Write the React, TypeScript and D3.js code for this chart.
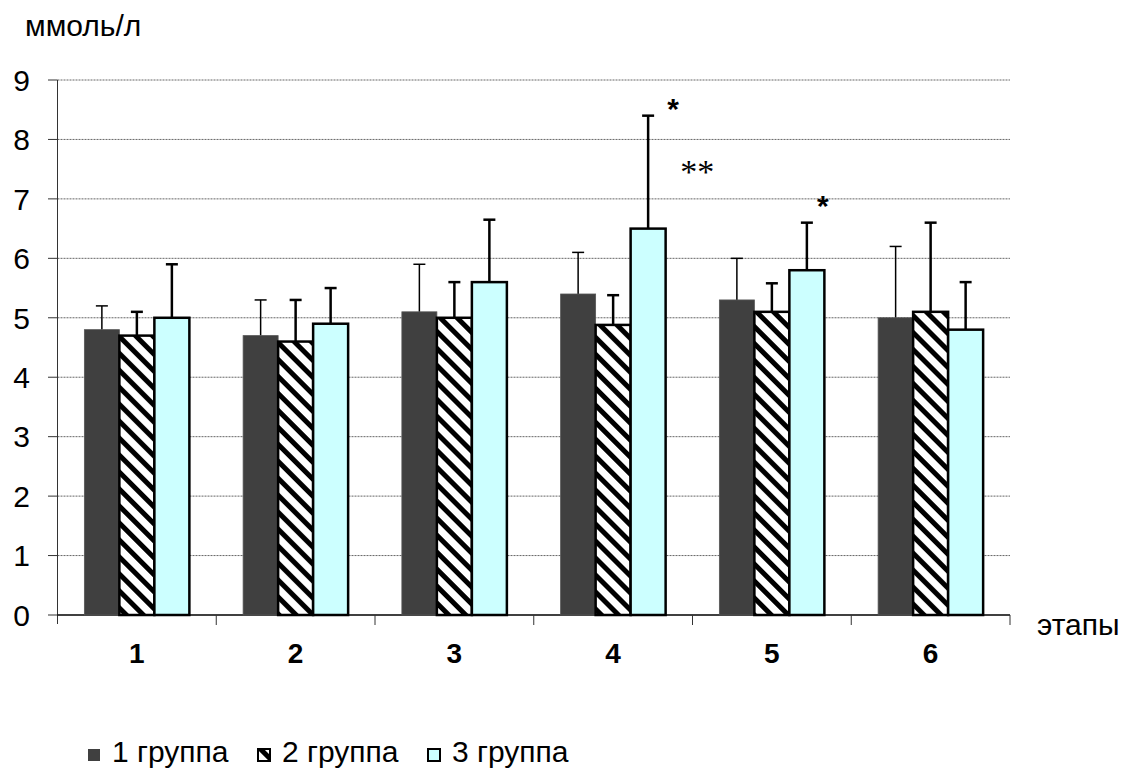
import * as d3 from "d3";

const stages = ["1", "2", "3", "4", "5", "6"];
const groups = ["1 группа", "2 группа", "3 группа"];

// mean values per group, one entry per stage
const group1 = [4.8, 4.7, 5.1, 5.4, 5.3, 5.0];
const group2 = [4.7, 4.6, 5.0, 4.88, 5.1, 5.1];
const group3 = [5.0, 4.9, 5.6, 6.5, 5.8, 4.8];

// upper end of the error bars
const err1 = [5.2, 5.3, 5.9, 6.1, 6.0, 6.2];
const err2 = [5.1, 5.3, 5.6, 5.38, 5.58, 6.6];
const err3 = [5.9, 5.5, 6.65, 8.4, 6.6, 5.6];

const yTicks = [0, 1, 2, 3, 4, 5, 6, 7, 8, 9];

// significance marks: stage, text, value level of the mark centre
const marks = [
  { stage: "4", text: "*", level: 8.58, shift: 25, serif: false },
  { stage: "4", text: "**", level: 7.55, shift: 49, serif: true },
  { stage: "5", text: "*", level: 6.95, shift: 16, serif: false },
];

const W = 1126;
const H = 769;
const left = 57.5;
const right = 1010;
const top = 80;
const bottom = 615;
const font = "'Liberation Sans', Arial, sans-serif";

export default function App() {
  const x = d3.scaleBand<string>().domain(stages).range([left, right]).paddingInner(0).paddingOuter(0);
  const inner = d3.scaleBand<string>().domain(groups).range([0, 105]);
  const y = d3.scaleLinear().domain([0, 9]).range([bottom, top]);

  const values = [group1, group2, group3];
  const errs = [err1, err2, err3];
  const fills = ["#404040", "url(#hatch)", "#CCFFFF"];

  const barX = (s: string, g: string) => x(s)! + (x.bandwidth() - 105) / 2 + inner(g)!;

  return (
    <svg width={W} height={H} style={{ position: "absolute", left: 0, top: 0 }} xmlns="http://www.w3.org/2000/svg">
      <defs>
        <pattern id="hatch" width="12" height="12" patternUnits="userSpaceOnUse" patternTransform="rotate(-45)">
          <rect width="12" height="12" fill="#fff" />
          <rect width="5" height="12" fill="#000" />
        </pattern>
      </defs>
      <rect width={W} height={H} fill="#fff" />

      <text x={25} y={36} fontFamily={font} fontSize={30}>ммоль/л</text>

      {yTicks.filter(t => t > 0).map(t => (
        <line key={"g" + t} x1={left} x2={right} y1={y(t)} y2={y(t)} stroke="#666" strokeWidth={1} strokeDasharray="2,1" />
      ))}

      {yTicks.map(t => (
        <g key={"t" + t}>
          <line x1={48} x2={left} y1={y(t)} y2={y(t)} stroke="#333" strokeWidth={1} />
          <text x={30} y={y(t)} dy="0.36em" textAnchor="end" fontFamily={font} fontSize={30}>{t}</text>
        </g>
      ))}

      <line x1={left} x2={left} y1={top} y2={bottom + 9} stroke="#333" strokeWidth={1} />
      <line x1={left} x2={right} y1={bottom} y2={bottom} stroke="#000" strokeWidth={1.5} />
      {stages.map(s => (
        <line key={"xt" + s} x1={x(s)! + x.bandwidth()} x2={x(s)! + x.bandwidth()} y1={bottom} y2={bottom + 10} stroke="#333" strokeWidth={1} />
      ))}

      {stages.map((s, i) => (
        <g key={"bars" + s}>
          {groups.map((g, gi) => {
            const bx = barX(s, g);
            const bw = inner.bandwidth();
            const cx = bx + bw / 2;
            const v = values[gi][i];
            const e = errs[gi][i];
            const sw = gi === 0 ? 1.5 : 2.5;
            return (
              <g key={g}>
                <line x1={cx} x2={cx} y1={y(v)} y2={y(e)} stroke="#000" strokeWidth={sw} />
                <line x1={cx - 6} x2={cx + 6} y1={y(e)} y2={y(e)} stroke="#000" strokeWidth={sw} />
                <rect x={bx} y={y(v)} width={bw} height={y(0) - y(v)} fill={fills[gi]}
                  stroke={gi === 0 ? "#555" : "#000"} strokeWidth={gi === 0 ? 0.8 : 2.5} />
              </g>
            );
          })}
          <text x={x(s)! + x.bandwidth() / 2} y={663} textAnchor="middle" fontFamily={font} fontWeight="bold" fontSize={28}>{s}</text>
        </g>
      ))}

      {marks.map((m, i) => {
        const px = barX(m.stage, groups[2]) + inner.bandwidth() / 2 + m.shift;
        const size = m.serif ? 34 : 30;
        return (
          <text key={"m" + i} x={px} y={y(m.level) + size * (m.serif ? 0.49 : 0.46)} textAnchor="middle"
            fontFamily={m.serif ? "'Liberation Serif', 'Times New Roman', serif" : font}
            fontWeight={m.serif ? "normal" : "bold"} fontSize={size}>{m.text}</text>
        );
      })}

      <text x={1037} y={635} fontFamily={font} fontSize={30}>этапы</text>

      {groups.map((g, gi) => {
        const lx = 88 + gi * 170;
        return (
          <g key={"lg" + g}>
            <rect x={lx} y={749} width={12} height={12} fill={fills[gi]} stroke={gi === 0 ? "none" : "#000"} strokeWidth={gi === 0 ? 0 : 2} />
            <text x={lx + 24} y={762} fontFamily={font} fontSize={30}>{g}</text>
          </g>
        );
      })}
    </svg>
  );
}
